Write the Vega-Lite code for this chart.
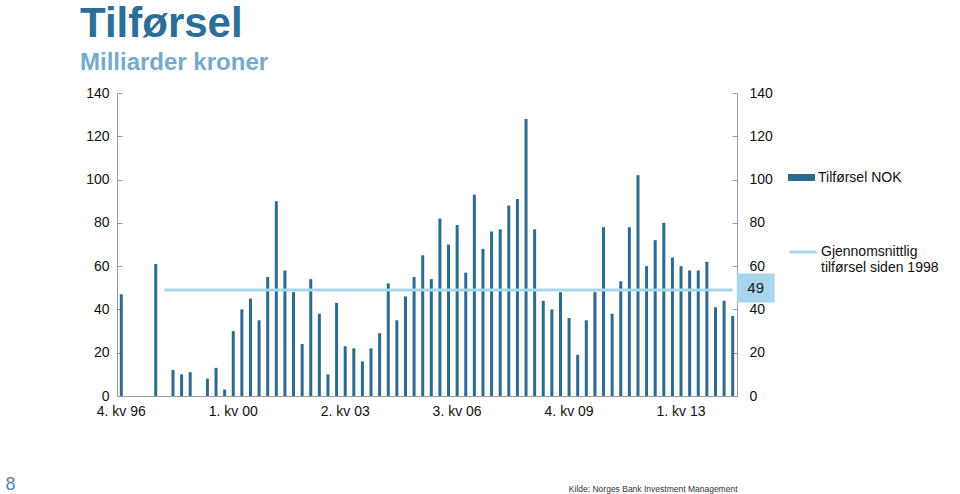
{
  "$schema": "https://vega.github.io/schema/vega-lite/v6.json",
  "autosize": "none",
  "width": 620,
  "height": 303,
  "padding": {"left": 117, "top": 93, "right": 223, "bottom": 98},
  "config": {
    "font": "Liberation Sans",
    "view": {"stroke": null},
    "axis": {"grid": false, "domainColor": "#9a9a9a", "tickColor": "#9a9a9a", "labelColor": "#111111", "labelFont": "Liberation Sans"}
  },
  "title": {
    "text": "Tilførsel",
    "subtitle": "Milliarder kroner",
    "anchor": "start",
    "frame": "group",
    "dx": -37,
    "offset": 10,
    "fontSize": 42,
    "fontWeight": "bold",
    "color": "#2b6e97",
    "subtitleFontSize": 24,
    "subtitleFontWeight": "bold",
    "subtitleColor": "#74abcc",
    "subtitlePadding": 5
  },
  "data": {
    "values": [
      {"q": "4. kv 96", "value": 47, "avg": null},
      {"q": "1. kv 97", "value": null, "avg": null},
      {"q": "2. kv 97", "value": null, "avg": null},
      {"q": "3. kv 97", "value": null, "avg": null},
      {"q": "4. kv 97", "value": 61, "avg": null},
      {"q": "1. kv 98", "value": null, "avg": 49},
      {"q": "2. kv 98", "value": 12, "avg": 49},
      {"q": "3. kv 98", "value": 10, "avg": 49},
      {"q": "4. kv 98", "value": 11, "avg": 49},
      {"q": "1. kv 99", "value": null, "avg": 49},
      {"q": "2. kv 99", "value": 8, "avg": 49},
      {"q": "3. kv 99", "value": 13, "avg": 49},
      {"q": "4. kv 99", "value": 3, "avg": 49},
      {"q": "1. kv 00", "value": 30, "avg": 49},
      {"q": "2. kv 00", "value": 40, "avg": 49},
      {"q": "3. kv 00", "value": 45, "avg": 49},
      {"q": "4. kv 00", "value": 35, "avg": 49},
      {"q": "1. kv 01", "value": 55, "avg": 49},
      {"q": "2. kv 01", "value": 90, "avg": 49},
      {"q": "3. kv 01", "value": 58, "avg": 49},
      {"q": "4. kv 01", "value": 48, "avg": 49},
      {"q": "1. kv 02", "value": 24, "avg": 49},
      {"q": "2. kv 02", "value": 54, "avg": 49},
      {"q": "3. kv 02", "value": 38, "avg": 49},
      {"q": "4. kv 02", "value": 10, "avg": 49},
      {"q": "1. kv 03", "value": 43, "avg": 49},
      {"q": "2. kv 03", "value": 23, "avg": 49},
      {"q": "3. kv 03", "value": 22, "avg": 49},
      {"q": "4. kv 03", "value": 16, "avg": 49},
      {"q": "1. kv 04", "value": 22, "avg": 49},
      {"q": "2. kv 04", "value": 29, "avg": 49},
      {"q": "3. kv 04", "value": 52, "avg": 49},
      {"q": "4. kv 04", "value": 35, "avg": 49},
      {"q": "1. kv 05", "value": 46, "avg": 49},
      {"q": "2. kv 05", "value": 55, "avg": 49},
      {"q": "3. kv 05", "value": 65, "avg": 49},
      {"q": "4. kv 05", "value": 54, "avg": 49},
      {"q": "1. kv 06", "value": 82, "avg": 49},
      {"q": "2. kv 06", "value": 70, "avg": 49},
      {"q": "3. kv 06", "value": 79, "avg": 49},
      {"q": "4. kv 06", "value": 57, "avg": 49},
      {"q": "1. kv 07", "value": 93, "avg": 49},
      {"q": "2. kv 07", "value": 68, "avg": 49},
      {"q": "3. kv 07", "value": 76, "avg": 49},
      {"q": "4. kv 07", "value": 77, "avg": 49},
      {"q": "1. kv 08", "value": 88, "avg": 49},
      {"q": "2. kv 08", "value": 91, "avg": 49},
      {"q": "3. kv 08", "value": 128, "avg": 49},
      {"q": "4. kv 08", "value": 77, "avg": 49},
      {"q": "1. kv 09", "value": 44, "avg": 49},
      {"q": "2. kv 09", "value": 40, "avg": 49},
      {"q": "3. kv 09", "value": 48, "avg": 49},
      {"q": "4. kv 09", "value": 36, "avg": 49},
      {"q": "1. kv 10", "value": 19, "avg": 49},
      {"q": "2. kv 10", "value": 35, "avg": 49},
      {"q": "3. kv 10", "value": 48, "avg": 49},
      {"q": "4. kv 10", "value": 78, "avg": 49},
      {"q": "1. kv 11", "value": 38, "avg": 49},
      {"q": "2. kv 11", "value": 53, "avg": 49},
      {"q": "3. kv 11", "value": 78, "avg": 49},
      {"q": "4. kv 11", "value": 102, "avg": 49},
      {"q": "1. kv 12", "value": 60, "avg": 49},
      {"q": "2. kv 12", "value": 72, "avg": 49},
      {"q": "3. kv 12", "value": 80, "avg": 49},
      {"q": "4. kv 12", "value": 64, "avg": 49},
      {"q": "1. kv 13", "value": 60, "avg": 49},
      {"q": "2. kv 13", "value": 58, "avg": 49},
      {"q": "3. kv 13", "value": 58, "avg": 49},
      {"q": "4. kv 13", "value": 62, "avg": 49},
      {"q": "1. kv 14", "value": 41, "avg": 49},
      {"q": "2. kv 14", "value": 44, "avg": 49},
      {"q": "3. kv 14", "value": 37, "avg": 49}
    ]
  },
  "encoding": {
    "x": {
      "field": "q",
      "type": "ordinal",
      "sort": null,
      "scale": {
        "paddingInner": 0.65,
        "paddingOuter": 0.325,
        "domain": ["4. kv 96","1. kv 97","2. kv 97","3. kv 97","4. kv 97","1. kv 98","2. kv 98","3. kv 98","4. kv 98","1. kv 99","2. kv 99","3. kv 99","4. kv 99","1. kv 00","2. kv 00","3. kv 00","4. kv 00","1. kv 01","2. kv 01","3. kv 01","4. kv 01","1. kv 02","2. kv 02","3. kv 02","4. kv 02","1. kv 03","2. kv 03","3. kv 03","4. kv 03","1. kv 04","2. kv 04","3. kv 04","4. kv 04","1. kv 05","2. kv 05","3. kv 05","4. kv 05","1. kv 06","2. kv 06","3. kv 06","4. kv 06","1. kv 07","2. kv 07","3. kv 07","4. kv 07","1. kv 08","2. kv 08","3. kv 08","4. kv 08","1. kv 09","2. kv 09","3. kv 09","4. kv 09","1. kv 10","2. kv 10","3. kv 10","4. kv 10","1. kv 11","2. kv 11","3. kv 11","4. kv 11","1. kv 12","2. kv 12","3. kv 12","4. kv 12","1. kv 13","2. kv 13","3. kv 13","4. kv 13","1. kv 14","2. kv 14","3. kv 14"]
      },
      "axis": {
        "values": ["4. kv 96", "1. kv 00", "2. kv 03", "3. kv 06", "4. kv 09", "1. kv 13"],
        "ticks": false,
        "labelAngle": 0,
        "labelFontSize": 14,
        "labelPadding": 8,
        "title": "Kilde: Norges Bank Investment Management",
        "titleX": 620,
        "titleY": 95,
        "titleAlign": "right",
        "titleBaseline": "alphabetic",
        "titleFontSize": 8.5,
        "titleFontWeight": "normal",
        "titleColor": "#333333"
      }
    }
  },
  "layer": [
    {
      "mark": {"type": "bar", "color": "#2c6b90"},
      "encoding": {
        "y": {
          "field": "value",
          "type": "quantitative",
          "scale": {"domain": [0, 140], "nice": false},
          "axis": {
            "orient": "left",
            "values": [0, 20, 40, 60, 80, 100, 120, 140],
            "tickSize": -5,
            "labelPadding": 13,
            "labelFontSize": 14,
            "title": "8",
            "titleAngle": 0,
            "titleX": -107,
            "titleY": 391,
            "titleAlign": "center",
            "titleBaseline": "middle",
            "titleFontSize": 18,
            "titleFontWeight": "normal",
            "titleColor": "#5285a8"
          }
        },
        "fill": {
          "datum": "Tilførsel NOK",
          "type": "nominal",
          "scale": {"range": ["#2c6b90"]},
          "legend": {
            "title": null,
            "orient": "none",
            "legendX": 671,
            "legendY": 71,
            "padding": 0,
            "symbolType": "M-1,-0.26H1V0.26H-1Z",
            "symbolSize": 729,
            "symbolStrokeWidth": 0,
            "labelOffset": 3,
            "labelFontSize": 14,
            "labelColor": "#111111"
          }
        }
      }
    },
    {
      "mark": {"type": "line", "color": "#a6d7ea", "strokeWidth": 3},
      "encoding": {
        "y": {
          "field": "avg",
          "type": "quantitative",
          "scale": {"domain": [0, 140], "nice": false},
          "axis": {
            "orient": "right",
            "values": [0, 20, 40, 60, 80, 100, 120, 140],
            "tickSize": -5,
            "labelPadding": 17,
            "labelFontSize": 14,
            "title": null
          }
        },
        "stroke": {
          "datum": "Gjennomsnittlig tilførsel siden 1998",
          "type": "nominal",
          "scale": {"range": ["#a6d7ea"]},
          "legend": {
            "title": null,
            "orient": "none",
            "legendX": 671,
            "legendY": 144,
            "padding": 0,
            "symbolType": "stroke",
            "symbolSize": 729,
            "symbolStrokeWidth": 3,
            "labelOffset": 3,
            "labelFontSize": 14,
            "labelColor": "#111111",
            "labelExpr": "['Gjennomsnittlig', 'tilførsel siden 1998']"
          }
        }
      }
    },
    {
      "transform": [{"filter": "datum.q == '3. kv 14'"}],
      "mark": {"type": "point", "shape": "M-1,-0.76H1V0.76H-1Z", "size": 1444, "filled": true, "color": "#a9d6ec", "opacity": 1, "xOffset": 23, "yOffset": -2},
      "encoding": {
        "y": {"field": "avg", "type": "quantitative", "scale": {"domain": [0, 140], "nice": false}, "axis": null}
      }
    },
    {
      "transform": [{"filter": "datum.q == '3. kv 14'"}],
      "mark": {"type": "text", "fontSize": 15, "color": "#1a1a1a", "xOffset": 23, "yOffset": -2},
      "encoding": {
        "y": {"field": "avg", "type": "quantitative", "scale": {"domain": [0, 140], "nice": false}, "axis": null},
        "text": {"field": "avg", "type": "quantitative"}
      }
    }
  ],
  "resolve": {"scale": {"y": "independent"}}
}
